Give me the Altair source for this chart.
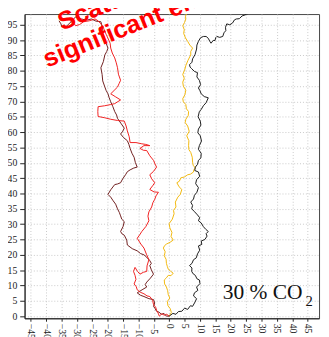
import altair as alt
import pandas as pd

# ---- data (x: lateral displacement, y: depth) ----
black_x = [0, 1.2, 2.2, 3.0, 4.1, 5.0, 6.0, 6.9, 7.6, 8.4, 8.9, 7.9, 8.2, 9.3, 8.9, 10.0, 9.8, 9.0, 8.5, 7.8,
           7.3, 7.4, 6.6, 7.4, 7.9, 8.8, 9.2, 9.9, 9.5, 10.6, 10.4, 11.6, 12.3, 12.0, 12.7, 11.9, 11.1, 10.4, 9.5, 9.9,
           9.2, 8.1, 7.3, 7.6, 7.0, 7.9, 8.2, 9.0, 9.5, 8.6, 8.9, 9.9, 9.5, 8.3, 8.5, 9.2, 9.5, 10.3, 10.4, 9.5,
           9.8, 10.5, 10.1, 9.3, 9.5, 10.3, 10.1, 9.4, 9.8, 10.4, 11.1, 12.0, 12.7, 11.4, 10.4, 10.0, 9.5, 10.2, 9.8, 9.0,
           9.2, 8.2, 7.3, 6.8, 6.6, 7.4, 7.6, 8.4, 8.9, 9.0, 9.5, 10.2, 11.1, 12.0, 12.7, 13.2, 13.6, 14.3, 14.9, 15.1,
           15.5, 16.4, 17.4, 17.8, 18.4, 18.3, 18.7, 19.7, 20.6, 21.2, 21.8, 22.8, 23.7, 24.6, 25.9]
black_y = [0, 0.9, 0.6, 1.5, 1.6, 2.6, 2.2, 3.4, 3.2, 4.6, 5.7, 6.6, 7.6, 8.4, 9.5, 10.6, 11.8, 12.2, 13.3, 13.8,
           14.6, 15.7, 16.5, 17.2, 18.4, 19.0, 20.3, 21.5, 22.9, 23.4, 24.5, 25.0, 26.1, 26.9, 27.6, 28.3, 29.2, 30.4, 31.1, 32.1,
           33.0, 34.2, 35.0, 36.1, 37.2, 38.2, 39.4, 40.4, 41.9, 43.2, 44.5, 45.6, 47.0, 47.5, 48.6, 49.5, 50.8, 51.6, 53.1, 54.4,
           55.6, 57.1, 58.8, 59.8, 61.0, 62.3, 63.6, 65.0, 66.7, 67.4, 68.6, 69.6, 71.2, 71.6, 72.5, 73.5, 74.4, 75.5, 76.9, 78.0,
           79.4, 79.8, 80.7, 81.2, 82.0, 82.8, 83.9, 85.3, 87.1, 88.4, 89.6, 90.8, 91.2, 91.2, 90.6, 89.6, 89.0, 89.9, 89.9, 90.8,
           91.2, 90.9, 91.2, 92.4, 93.1, 94.2, 95.3, 95.0, 95.6, 96.6, 96.9, 97.0, 97.9, 98.2, 98.8]

yellow_x = [0, 0.7, 0.3, -0.4, -0.6, 0.2, -0.3, -0.5, -0.9, -1.5, -1.6, -0.9, -0.3, 0.6, 1.3, 0.4, -0.3, -0.6, -0.9, -1.0,
            -1.6, -1.3, -1.9, -1.5, -0.9, 0.3, 1.3, 0.6, 0.9, 0.2, 0, 1.0, 1.6, 1.4, 2.2, 2.0, 2.8, 3.6, 4.1, 3.2,
            2.5, 3.3, 3.8, 5.0, 6.0, 6.9, 7.9, 8.0, 8.5, 7.8, 7.6, 7.5, 7.0, 6.4, 6.3, 6.4, 5.7, 6.5, 6.0, 5.2,
            5.4, 6.2, 6.3, 5.6, 5.4, 4.6, 4.4, 5.1, 5.4, 4.6, 4.4, 4.9, 4.4, 5.0, 5.4, 6.1, 7.0, 7.0, 7.6, 6.7,
            6.0, 5.3, 4.7, 4.9, 4.4, 5.0, 5.4, 5.3, 5.7]
yellow_y = [0, 1.2, 2.5, 3.4, 4.8, 5.9, 7.0, 8.3, 9.5, 10.5, 11.8, 12.5, 13.3, 13.2, 14.0, 14.7, 15.3, 16.2, 17.2, 18.5,
            19.7, 21.0, 22.2, 23.0, 23.5, 24.1, 24.8, 26.0, 27.3, 28.8, 30.2, 31.6, 33.4, 34.5, 35.6, 37.2, 38.8, 39.7, 41.3, 42.2,
            43.5, 44.0, 45.1, 45.4, 46.1, 46.3, 47.0, 47.7, 48.3, 49.2, 50.2, 51.8, 53.4, 54.3, 55.6, 57.2, 58.8, 60.3, 62.0, 63.1,
            64.2, 65.4, 66.7, 67.6, 69.0, 69.9, 70.9, 72.2, 73.7, 75.0, 76.3, 77.6, 78.8, 80.2, 81.7, 83.4, 85.2, 86.3, 87.4, 88.4,
            89.6, 90.7, 92.2, 93.4, 94.7, 95.8, 96.9, 97.8, 98.8]

red_x = [0, -0.8, -1.6, -2.4, -3.2, -3.6, -4.1, -4.4, -5.1, -5.4, -6.3, -7.2, -8.2, -9.4, -10.4, -10.7, -11.4, -10.8, -11.1, -11.6,
         -11.1, -10.3, -9.5, -8.4, -7.3, -7.2, -6.6, -7.4, -8.2, -9.2, -10.4, -9.6, -8.9, -7.6, -6.6, -6.9, -6.6, -5.7, -5.3, -4.7,
         -4.3, -3.5, -4.9, -6.3, -5.4, -4.7, -5.7, -6.3, -5.1, -4.1, -4.6, -5.1, -6.3, -7.3, -8.4, -9.5, -8.2, -6.3, -7.6, -8.9,
         -10.8, -12.7, -13.0, -13.6, -14.0, -14.6, -16.8, -19.0, -21.0, -23.1, -23.2, -23.1, -21.0, -19.0, -17.7, -15.8, -17.4, -19.0, -17.9, -16.8,
         -16.3, -15.8, -16.5, -16.8, -17.2, -17.7, -18.5, -19.0, -19.2, -19.9, -20.4, -20.9, -21.4, -22.2, -23.1, -24.1, -26.0, -27.8, -29.1, -30.4,
         -31.1, -32.0]
red_y = [0, 0.6, 0.3, 0.8, 0, 1.0, 1.9, 2.9, 3.8, 5.2, 6.4, 6.6, 7.3, 7.8, 8.6, 9.6, 10.5, 12.0, 13.3, 14.6,
         15.9, 14.6, 13.7, 14.3, 14.6, 16.4, 18.4, 20.2, 22.2, 23.5, 25.4, 26.5, 27.6, 29.2, 31.1, 32.6, 34.0, 35.6, 37.0, 38.1,
         39.2, 40.4, 40.5, 41.3, 42.5, 43.5, 44.8, 46.1, 47.2, 48.6, 49.6, 50.8, 52.3, 54.0, 54.1, 54.7, 55.6, 55.6, 56.0, 56.2,
         56.6, 56.6, 58.5, 60.4, 62.0, 63.6, 63.8, 64.2, 64.7, 65.1, 66.7, 68.3, 68.6, 69.0, 69.3, 70.5, 71.5, 72.5, 73.6, 74.7,
         75.8, 76.9, 78.9, 81.0, 82.6, 84.2, 85.8, 87.4, 89.0, 90.6, 91.7, 92.8, 94.1, 95.3, 96.3, 96.9, 96.3, 96.0, 95.1, 94.7,
         95.6, 96.0]

darkred_x = [0, -0.9, -1.7, -2.5, -3.3, -4.1, -4.6, -5.1, -4.7, -5.1, -6.6, -8.2, -9.3, -10.4, -8.8, -7.3, -7.8, -7.3, -6.1, -5.1,
             -5.8, -6.3, -5.8, -6.3, -7.3, -8.2, -9.3, -10.4, -12.0, -13.6, -13.8, -14.6, -15.3, -15.8, -15.0, -14.6, -15.4, -15.8, -16.2, -16.8,
             -17.4, -18.2, -19.0, -19.9, -19.0, -17.7, -16.8, -15.8, -15.1, -14.2, -13.6, -12.7, -11.5, -10.4, -11.0, -11.4, -12.1, -12.7, -13.1, -13.6,
             -14.8, -15.8, -15.1, -14.6, -15.7, -16.8, -17.1, -17.7, -18.3, -19.0, -19.5, -19.9, -20.5, -20.9, -21.6, -21.8, -22.2, -21.4, -20.9, -20.3,
             -19.9, -20.8, -21.5, -21.7, -22.2, -23.8, -25.3, -26.9, -28.5, -29.5, -30.4, -31.9, -33.5, -34.2, -34.8, -35.3, -35.8]
darkred_y = [0, 0, 0.9, 0.6, 1.3, 1.6, 2.5, 3.2, 4.3, 5.4, 5.7, 6.4, 6.8, 7.6, 8.6, 9.5, 10.3, 11.1, 12.4, 13.7,
             15.1, 16.5, 17.2, 18.1, 19.2, 20.0, 20.4, 21.3, 22.0, 23.2, 24.8, 26.4, 26.8, 27.6, 29.2, 30.8, 31.6, 32.7, 33.8, 35.0,
             36.5, 37.6, 38.8, 39.7, 41.2, 42.9, 43.1, 43.5, 44.8, 46.1, 47.1, 47.7, 48.3, 48.6, 50.1, 51.8, 53.1, 54.7, 56.0, 57.2,
             58.2, 59.4, 60.3, 61.3, 62.9, 64.5, 65.6, 66.7, 68.3, 69.9, 71.2, 72.5, 73.6, 74.7, 76.7, 78.8, 81.0, 83.0, 85.2, 86.3,
             87.4, 89.8, 92.2, 94.1, 96.0, 96.2, 96.9, 96.5, 96.9, 97.3, 97.6, 96.0, 94.4, 95.0, 94.4, 95.5, 96.3]

series_names = ["dark red", "red", "yellow", "black"]
series_colors = ["#6e1c1c", "#f01e1e", "#f2b80c", "#1a1a1a"]

x_ticks = list(range(-45, 50, 5))
y_ticks = list(range(0, 100, 5))

note_lines = ["Scattering not", "significant enough"]
note_x = [-34.8, -39.6]
note_y = [93.1, 81.0]

co2_main = "30 % CO"
co2_sub = "2"

# ---- build table ----
rows = []
for name, xs, ys in [("dark red", darkred_x, darkred_y), ("red", red_x, red_y),
                     ("yellow", yellow_x, yellow_y), ("black", black_x, black_y)]:
    for i, (xv, yv) in enumerate(zip(xs, ys)):
        rows.append({"series": name, "x": xv, "y": yv, "i": i})
df = pd.DataFrame(rows)

x_scale = alt.Scale(domain=[-47, 48.7], nice=False, zero=False)
y_scale = alt.Scale(domain=[-0.7, 98.5], nice=False, zero=False)
x_axis = alt.Axis(values=x_ticks, title=None, labelAngle=90, labelPadding=2, tickSize=3,
                  grid=True, format="d", labelOverlap=False, labelFontSize=10)
y_axis = alt.Axis(values=y_ticks, title=None, labelPadding=3, tickSize=5, grid=True, format="d",
                  labelOverlap=False)

lines = alt.Chart(df).mark_line(strokeWidth=1, clip=True).encode(
    x=alt.X("x:Q", scale=x_scale, axis=x_axis),
    y=alt.Y("y:Q", scale=y_scale, axis=y_axis),
    color=alt.Color("series:N", scale=alt.Scale(domain=series_names, range=series_colors), legend=None),
    detail="series:N",
    order="i:Q",
)

note_df = pd.DataFrame({"x": note_x, "y": note_y, "t": note_lines})
note = alt.Chart(note_df).mark_text(angle=338, align="left", baseline="alphabetic", fontSize=26,
                                    fontWeight="bold", color="#ff0000", font="Liberation Sans").encode(
    x=alt.X("x:Q", scale=x_scale, axis=x_axis), y=alt.Y("y:Q", scale=y_scale, axis=y_axis), text="t:N")

co2_df = pd.DataFrame({"x": [17.4, 44.3], "y": [5.7, 3.2], "t": [co2_main, co2_sub], "s": [22, 15]})
co2 = alt.Chart(co2_df).mark_text(align="left", baseline="alphabetic", color="#111111",
                                  font="Liberation Serif").encode(
    x=alt.X("x:Q", scale=x_scale, axis=x_axis), y=alt.Y("y:Q", scale=y_scale, axis=y_axis), text="t:N",
    size=alt.Size("s:Q", scale=None, legend=None))

chart = alt.layer(lines, co2, note).properties(
    width=302, height=312, autosize="none",
    padding={"left": 17, "top": 2, "right": 2, "bottom": 17},
).configure_view(stroke="#444444", strokeWidth=1).configure_axis(
    labelFont="Liberation Serif", labelFontSize=10, labelColor="#222222",
    domainColor="#222222", tickColor="#222222",
    gridColor="#c8c8c8", gridDash=[1, 2], gridWidth=1,
)

chart.save("out.html", embed_options={"renderer": "svg", "actions": False})
